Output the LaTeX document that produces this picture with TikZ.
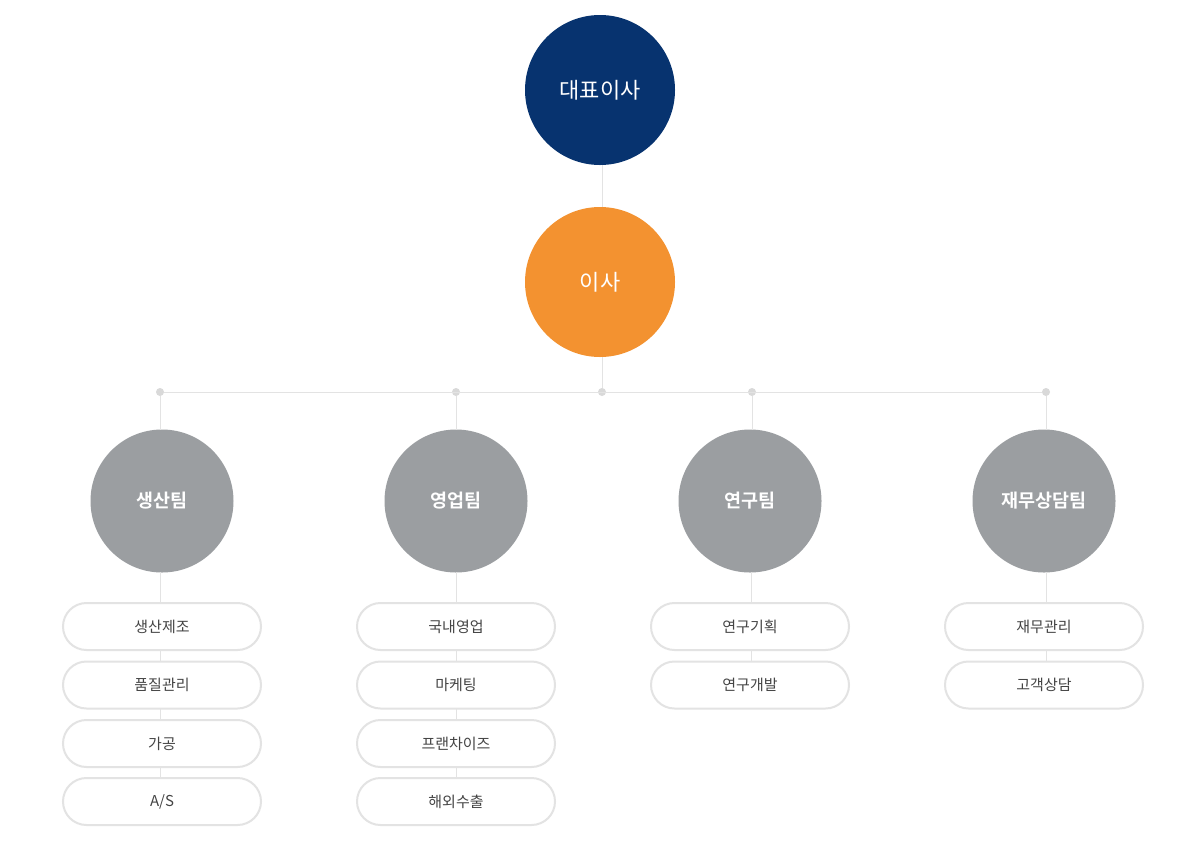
\documentclass[tikz,border=0pt]{standalone}
\usepackage{fontspec}
\usetikzlibrary{shapes.misc}
\setmainfont{Noto Sans CJK KR}
\newfontfamily\krbold{Noto Sans CJK KR Bold}
\definecolor{navy}{HTML}{07336F}
\definecolor{orng}{HTML}{F39230}
\definecolor{teamgray}{HTML}{9B9EA1}
\definecolor{linegray}{HTML}{E3E3E3}
\definecolor{dotgray}{HTML}{D9D9D9}
\definecolor{txtgray}{HTML}{444444}
\begin{document}
\begin{tikzpicture}[x=1pt,y=-1pt,
  conn/.style={draw=linegray,line width=1pt},
  bigcirc/.style={circle,minimum size=150pt,inner sep=0pt,text=white,font=\fontsize{22}{24}\selectfont},
  teamcirc/.style={circle,minimum size=143pt,inner sep=0pt,fill=teamgray,text=white,font=\krbold\fontsize{18.5}{20}\selectfont},
  pill/.style={rounded rectangle,draw=linegray,line width=2pt,fill=white,minimum width=198pt,minimum height=47pt,inner sep=0pt,text=txtgray,font=\fontsize{15}{17}\selectfont},
  jdot/.style={circle,fill=dotgray,minimum size=8pt,inner sep=0pt}]
\useasboundingbox (0,0) rectangle (1198,847);
\fill[white] (0,0) rectangle (1198,847);
% junction
\node[jdot] (d0) at (602,392) {};
\node[jdot] (d1) at (160,392) {};
\node[jdot] (d2) at (456,392) {};
\node[jdot] (d3) at (752,392) {};
\node[jdot] (d4) at (1046,392) {};
\draw[conn] (d1) -- (d4);
% top
\node[bigcirc,fill=navy] (ceo) at (600,90) {대표이사};
\node[bigcirc,fill=orng] (dir) at (600,282) {이사};
\draw[conn] (602,165) coordinate (c0) -- (602,207) coordinate (c1);
\draw[conn] (602,357) coordinate (c2) -- (d0);
% teams
\node[teamcirc] (t1) at (162,501) {생산팀};
\node[teamcirc] (t2) at (456,501) {영업팀};
\node[teamcirc] (t3) at (750,501) {연구팀};
\node[teamcirc] (t4) at (1044,501) {재무상담팀};
\coordinate (t1top) at (160,430);
\coordinate (t2top) at (456,430);
\coordinate (t3top) at (752,430);
\coordinate (t4top) at (1046,430);
\draw[conn] (d1) -- (t1top);
\draw[conn] (d2) -- (t2top);
\draw[conn] (d3) -- (t3top);
\draw[conn] (d4) -- (t4top);
% stems behind pills
\draw[conn] (160,572) coordinate (s1) -- (160,801) coordinate (e1);
\draw[conn] (456,572) coordinate (s2) -- (456,801) coordinate (e2);
\draw[conn] (751,572) coordinate (s3) -- (751,684) coordinate (e3);
\draw[conn] (1046,572) coordinate (s4) -- (1046,684) coordinate (e4);
% pills
\node[pill] (p11) at (162,626.5) {생산제조};
\node[pill] (p12) at (162,685) {품질관리};
\node[pill] (p13) at (162,743.5) {가공};
\node[pill] (p14) at (162,801.5) {A/S};
\node[pill] (p21) at (456,626.5) {국내영업};
\node[pill] (p22) at (456,685) {마케팅};
\node[pill] (p23) at (456,743.5) {프랜차이즈};
\node[pill] (p24) at (456,801.5) {해외수출};
\node[pill] (p31) at (750,626.5) {연구기획};
\node[pill] (p32) at (750,685) {연구개발};
\node[pill] (p41) at (1044,626.5) {재무관리};
\node[pill] (p42) at (1044,685) {고객상담};
\end{tikzpicture}
\end{document}
